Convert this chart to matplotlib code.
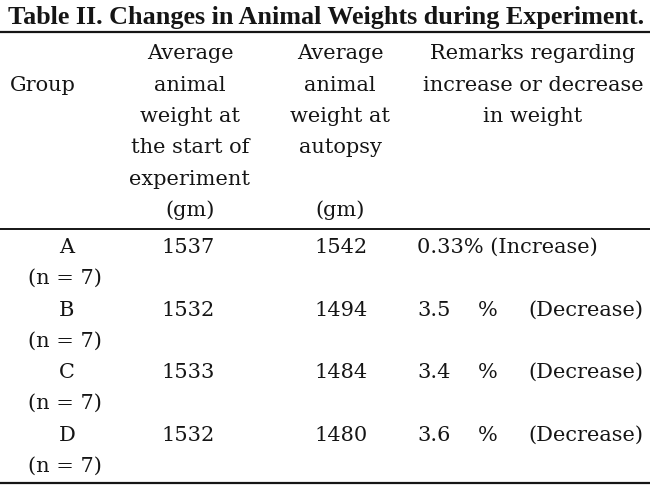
import matplotlib.pyplot as plt

# table values
groups = ["A", "B", "C", "D"]
group_n = [7, 7, 7, 7]
start_weight = [1537, 1532, 1533, 1532]
autopsy_weight = [1542, 1494, 1484, 1480]
change_pct = ["0.33", "3.5", "3.4", "3.6"]
change_dir = ["Increase", "Decrease", "Decrease", "Decrease"]

title = "Table II. Changes in Animal Weights during Experiment."
head_group = "Group"
head_start = ["Average", "animal", "weight at", "the start of", "experiment", "(gm)"]
head_autopsy = ["Average", "animal", "weight at", "autopsy", "", "(gm)"]
head_remarks = ["Remarks regarding", "increase or decrease", "in weight"]

FONT = "DejaVu Serif"
SIZE = 15
INK = "#151515"

fig = plt.figure(figsize=(6.5, 4.92), dpi=100)
ax = fig.add_axes([0, 0, 1, 1])
ax.set_xlim(0, 650)
ax.set_ylim(492, 0)
ax.axis("off")


def put(x, y, s, ha="center", **kw):
    return ax.text(x, y, s, ha=ha, va="baseline", family=FONT, size=SIZE,
                   color=INK, **kw)


# title, squeezed to the width of the table
t = ax.text(8, 24, title, ha="left", va="baseline", family="Liberation Serif",
            weight="bold", size=18, color=INK)
fig.canvas.draw()
w = t.get_window_extent().width
t.set_fontsize(18 * 636 / w)

# rules
for y, lw in [(32, 1.6), (229, 1.4), (483, 1.6)]:
    ax.plot([0, 650], [y, y], color=INK, lw=lw, solid_capstyle="butt")

# header
line_y = [59, 91, 122, 153, 185, 216]
put(10, 91, head_group, ha="left")
for y, s in zip(line_y, head_start):
    put(190, y, s)
for y, s in zip(line_y, head_autopsy):
    put(340, y, s)
for y, s in zip(line_y, head_remarks):
    put(533, y, s)

# body rows
row_y = [253, 316, 378, 441]
for i, y in enumerate(row_y):
    put(67, y, groups[i])
    put(65, y + 31, "(n = %d)" % group_n[i])
    put(188, y, str(start_weight[i]))
    put(341, y, str(autopsy_weight[i]))
    if change_dir[i] == "Increase":
        put(417, y, "%s%% (%s)" % (change_pct[i], change_dir[i]), ha="left")
    else:
        put(417, y, change_pct[i], ha="left")
        put(488, y, "%")
        put(643, y, "(%s)" % change_dir[i], ha="right")

fig.savefig("out.png", dpi=100, facecolor="white")
